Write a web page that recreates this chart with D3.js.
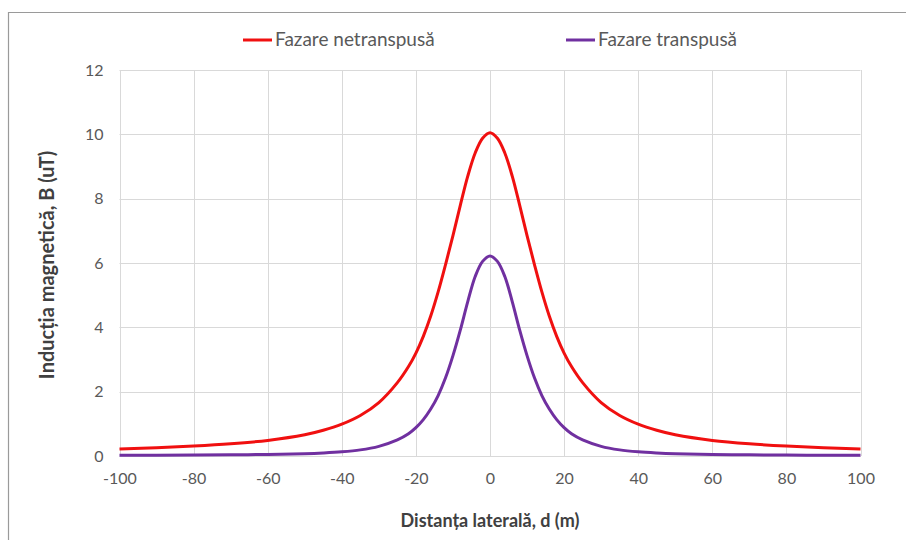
<!DOCTYPE html>
<html>
<head>
<meta charset="utf-8">
<script src="https://cdn.jsdelivr.net/npm/d3@7"></script>
<style>
  html, body { margin: 0; padding: 0; background: #fff; }
  svg { display: block; }
</style>
</head>
<body>
<svg id="chart" width="906" height="540"></svg>
<script>
// Lateral distance from the line axis (m)
const distances = [-100, -90, -80, -70, -60, -50, -45, -40, -35, -30, -25, -22, -20, -18, -16, -14, -12, -10, -8, -6, -4, -2, 0,
                   2, 4, 6, 8, 10, 12, 14, 16, 18, 20, 22, 25, 30, 35, 40, 45, 50, 60, 70, 80, 90, 100];
// Magnetic induction (uT), non-transposed phasing
const untransposed = [0.22, 0.26, 0.31, 0.38, 0.485, 0.66, 0.80, 0.99, 1.26, 1.66, 2.28, 2.78, 3.20, 3.72, 4.35, 5.10, 5.95, 6.85, 7.80, 8.70, 9.42, 9.88, 10.05,
                      9.88, 9.42, 8.70, 7.80, 6.85, 5.95, 5.10, 4.35, 3.72, 3.20, 2.78, 2.28, 1.66, 1.26, 0.99, 0.80, 0.66, 0.485, 0.38, 0.31, 0.26, 0.22];
// Magnetic induction (uT), transposed phasing
const transposed = [0.02, 0.024, 0.029, 0.036, 0.048, 0.072, 0.095, 0.13, 0.19, 0.30, 0.50, 0.69, 0.88, 1.13, 1.46, 1.88, 2.43, 3.12, 3.92, 4.80, 5.58, 6.05, 6.22,
                    6.05, 5.58, 4.80, 3.92, 3.12, 2.43, 1.88, 1.46, 1.13, 0.88, 0.69, 0.50, 0.30, 0.19, 0.13, 0.095, 0.072, 0.048, 0.036, 0.029, 0.024, 0.02];

const seriesNames = ["Fazare netranspusă", "Fazare transpusă"];
const seriesColors = ["#f01010", "#7030a0"];
const xTicks = [-100, -80, -60, -40, -20, 0, 20, 40, 60, 80, 100];
const yTicks = [0, 2, 4, 6, 8, 10, 12];
const xTitle = "Distanța laterală, d (m)";
const yTitle = "Inducția magnetică, B (uT)";

const svg = d3.select("#chart");
const font = "Lato, 'Open Sans', sans-serif";

// chart frame
svg.append("line").attr("x1", 8).attr("y1", 12.5).attr("x2", 906).attr("y2", 12.5)
  .attr("stroke", "#9a9a9a").attr("stroke-width", 1.2);
svg.append("line").attr("x1", 8.5).attr("y1", 12).attr("x2", 8.5).attr("y2", 540)
  .attr("stroke", "#9a9a9a").attr("stroke-width", 1.2);

const plot = { left: 119.5, right: 860.5, top: 70, bottom: 456 };
const x = d3.scaleLinear().domain([-100, 100]).range([plot.left, plot.right]);
const y = d3.scaleLinear().domain([0, 12]).range([plot.bottom, plot.top]);

// gridlines
const grid = svg.append("g");
grid.selectAll("line.h").data(yTicks).enter().append("line")
  .attr("x1", plot.left).attr("x2", plot.right)
  .attr("y1", d => Math.round(y(d)) + 0.5).attr("y2", d => Math.round(y(d)) + 0.5)
  .attr("stroke", "#d9d9d9").attr("stroke-width", 1);
grid.selectAll("line.v").data(xTicks).enter().append("line")
  .attr("y1", plot.top).attr("y2", plot.bottom)
  .attr("x1", d => Math.round(x(d)) + 0.5).attr("x2", d => Math.round(x(d)) + 0.5)
  .attr("stroke", "#d9d9d9").attr("stroke-width", 1);

// axes (labels only)
const xAxis = svg.append("g").attr("transform", `translate(0,${plot.bottom})`)
  .call(d3.axisBottom(x).tickValues(xTicks).tickFormat(d => String(d)).tickSize(0).tickPadding(17));
const yAxis = svg.append("g").attr("transform", `translate(${plot.left},0)`)
  .call(d3.axisLeft(y).tickValues(yTicks).tickFormat(d => String(d)).tickSize(0).tickPadding(16));
[xAxis, yAxis].forEach(a => {
  a.select(".domain").remove();
  a.selectAll("text").attr("font-family", font).attr("font-size", 16).attr("fill", "#595959");
});

// curves
const line = d3.line()
  .x(d => x(d[0])).y(d => y(d[1]))
  .curve(d3.curveCatmullRom.alpha(0.5));
[untransposed, transposed].forEach((vals, i) => {
  svg.append("path")
    .datum(distances.map((d, j) => [d, vals[j]]))
    .attr("d", line)
    .attr("fill", "none")
    .attr("stroke", seriesColors[i])
    .attr("stroke-width", 3)
    .attr("stroke-linejoin", "round");
});

// axis titles
svg.append("text").attr("x", (plot.left + plot.right) / 2).attr("y", 527)
  .attr("text-anchor", "middle").attr("font-family", font).attr("font-weight", "bold")
  .attr("font-size", 18).attr("fill", "#404040").text(xTitle);
svg.append("text").attr("transform", `translate(54,${(plot.top + plot.bottom) / 2 + 2}) rotate(-90)`)
  .attr("text-anchor", "middle").attr("font-family", font).attr("font-weight", "bold")
  .attr("font-size", 20).attr("fill", "#404040").text(yTitle);

// legend
const legendX = [243, 566];
seriesNames.forEach((name, i) => {
  const g = svg.append("g").attr("transform", `translate(${legendX[i]},40)`);
  g.append("line").attr("x1", 0).attr("x2", 29).attr("y1", 0).attr("y2", 0)
    .attr("stroke", seriesColors[i]).attr("stroke-width", 3);
  g.append("text").attr("x", 32).attr("y", 6).attr("font-family", font)
    .attr("font-size", 19).attr("fill", "#595959").text(name);
});
</script>
</body>
</html>
